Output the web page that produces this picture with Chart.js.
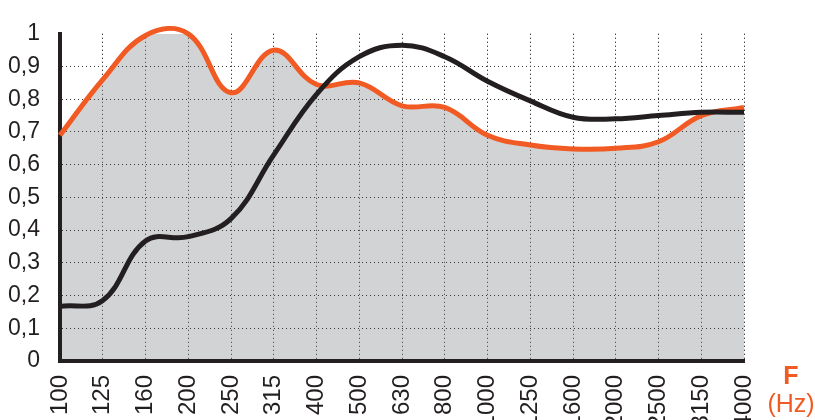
<!DOCTYPE html>
<html>
<head>
<meta charset="utf-8">
<script src="https://cdn.jsdelivr.net/npm/chart.js@4"></script>
<style>
  html, body { margin: 0; padding: 0; background: #fff; }
  #wrap { width: 815px; height: 420px; }
</style>
</head>
<body>
<div id="wrap"><canvas id="absorptionChart" width="815" height="420"></canvas></div>
<script>
// Frequency bands (Hz)
const frequencies = ['100', '125', '160', '200', '250', '315', '400', '500', '630',
    '800', '1000', '1250', '1600', '2000', '2500', '3150', '4000'];

// Orange curve with grey area
const orangeValues = [0.69, 0.86, 0.995, 1.0, 0.82, 0.95, 0.845, 0.85, 0.78,
    0.775, 0.69, 0.66, 0.648, 0.65, 0.67, 0.75, 0.775];

// Black curve
const blackValues = [0.167, 0.185, 0.367, 0.38, 0.435, 0.63, 0.815, 0.93, 0.965,
    0.93, 0.855, 0.795, 0.745, 0.74, 0.75, 0.76, 0.76];

const yTicks = [0, 0.1, 0.2, 0.3, 0.4, 0.5, 0.6, 0.7, 0.8, 0.9, 1];

const fontFamily = "'Liberation Sans', Arial, sans-serif";
const orange = '#f15a22';
const ink = '#231f20';

// Redraw grid above the grey fill but under the lines
const gridOverFill = {
    id: 'gridOverFill',
    beforeDatasetsDraw(chart) {
        const area = chart.chartArea;
        chart.scales.x.drawGrid(area);
        chart.scales.y.drawGrid(area);
        if (chart.scales.x.drawBorder) chart.scales.x.drawBorder();
        if (chart.scales.y.drawBorder) chart.scales.y.drawBorder();
    },
    afterDraw(chart) {
        const ctx = chart.ctx;
        ctx.save();
        ctx.fillStyle = orange;
        ctx.textAlign = 'center';
        ctx.textBaseline = 'middle';
        ctx.font = "bold 25px " + fontFamily;
        ctx.fillText('F', 791, 377);
        ctx.font = "25px " + fontFamily;
        ctx.fillText('(Hz)', 791, 405);
        ctx.restore();
    }
};

new Chart(document.getElementById('absorptionChart'), {
    type: 'line',
    data: {
        labels: frequencies,
        datasets: [{
            label: 'black',
            data: blackValues,
            borderColor: ink,
            borderWidth: 5,
            pointRadius: 0,
            tension: 0.4,
            fill: false,
            clip: false,
            order: 0
        }, {
            label: 'orange',
            data: orangeValues,
            borderColor: orange,
            backgroundColor: '#d1d3d4',
            borderWidth: 5,
            pointRadius: 0,
            tension: 0.4,
            fill: 'origin',
            clip: false,
            order: 1
        }]
    },
    options: {
        responsive: false,
        animation: false,
        layout: { padding: { top: 26, right: 71, left: 0, bottom: 0 } },
        elements: { line: { capBezierPoints: false } },
        plugins: {
            legend: { display: false },
            tooltip: { enabled: false },
            filler: { drawTime: 'beforeDatasetsDraw' }
        },
        scales: {
            x: {
                offset: false,
                afterFit(scale) { scale.height = 59; },
                grid: {
                    color: ctx => ctx.index === 0 ? 'rgba(0,0,0,0)' : '#3a3a3a',
                    lineWidth: 1,
                    drawTicks: false
                },
                border: { display: true, color: ink, width: 4, dash: [1, 3] },
                ticks: {
                    color: ink,
                    font: { family: fontFamily, size: 24 },
                    minRotation: 90,
                    maxRotation: 90,
                    padding: 14,
                    autoSkip: false
                }
            },
            y: {
                min: 0,
                max: 1,
                afterFit(scale) { scale.width = 60; },
                afterBuildTicks(scale) {
                    scale.ticks = yTicks.map(v => ({ value: v }));
                },
                grid: {
                    color: ctx => (ctx.tick && ctx.tick.value >= 1) || ctx.index === 0 ? 'rgba(0,0,0,0)' : '#3a3a3a',
                    lineWidth: 1,
                    drawTicks: false
                },
                border: { display: true, color: ink, width: 4, dash: [1, 3] },
                ticks: {
                    color: ink,
                    font: { family: fontFamily, size: 23 },
                    padding: 20,
                    callback: v => (v === 0 || v === 1) ? String(v) : v.toFixed(1).replace('.', ',')
                }
            }
        }
    },
    plugins: [gridOverFill]
});
</script>
</body>
</html>
